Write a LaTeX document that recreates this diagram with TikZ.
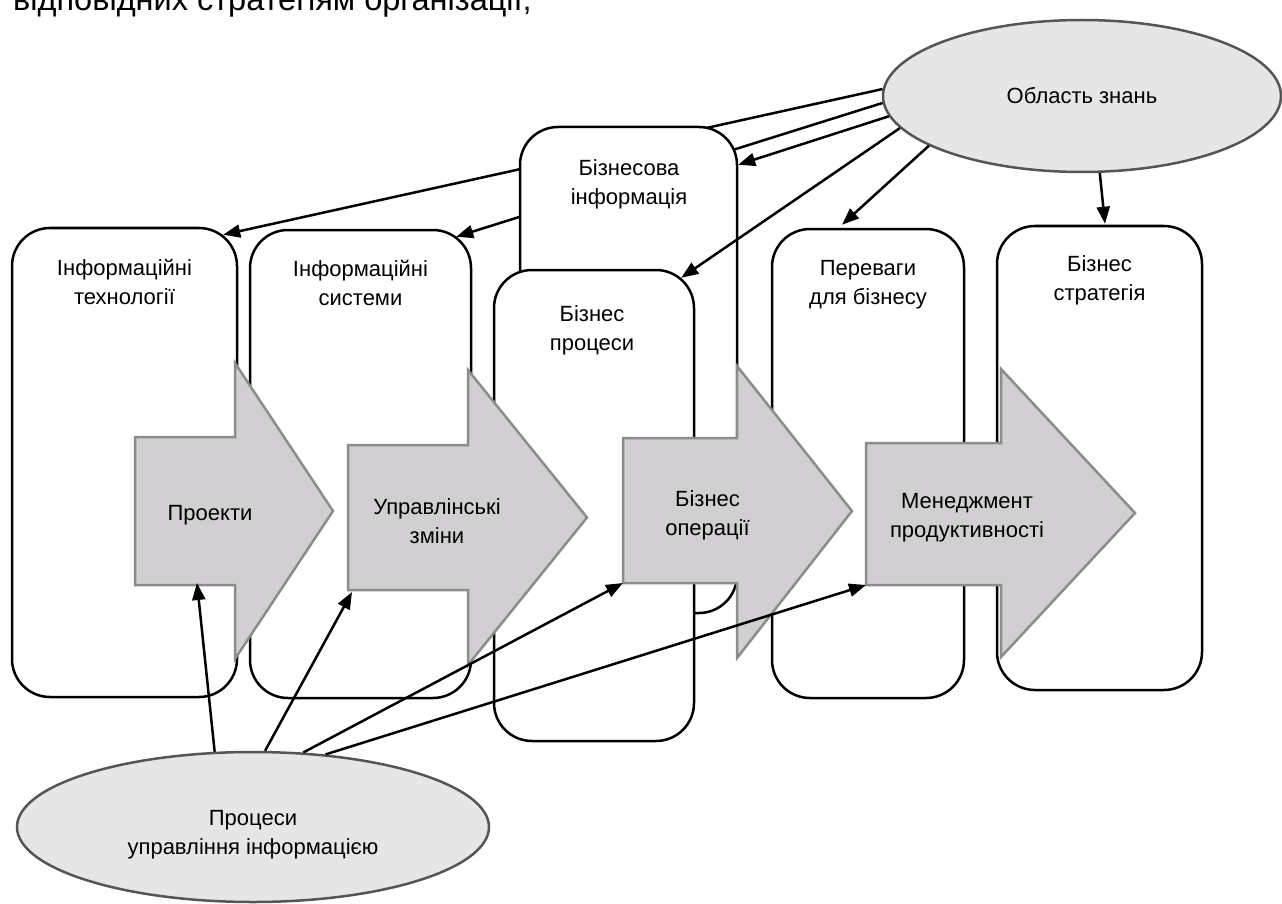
\documentclass[tikz,border=0pt]{standalone}
\usepackage{fontspec}
\setmainfont{Liberation Sans}
\usetikzlibrary{shapes.geometric,arrows.meta,calc}
\definecolor{ellfill}{HTML}{E6E6E6}
\definecolor{elldraw}{HTML}{555555}
\definecolor{blkfill}{HTML}{D1CFD1}
\definecolor{blkdraw}{HTML}{8C8C8C}
\begin{document}
\begin{tikzpicture}[x=1pt,y=-1pt,
  box/.style={draw=black, line width=2.5pt, rounded corners=38pt, fill=white, inner sep=0pt},
  oval/.style={ellipse, draw=elldraw, fill=ellfill, line width=2.5pt, inner sep=0pt},
  blk/.style={draw=blkdraw, fill=blkfill, line width=2.5pt, line join=miter},
  lbl/.style={font=\fontsize{22}{29}\selectfont, align=center, inner sep=0pt, anchor=north},
  conn/.style={line width=2.5pt, draw=black},
  arr/.style={conn, -{Triangle[length=17pt,width=13pt]}},
]
\useasboundingbox (0,0) rectangle (1282,904);

\node[anchor=base west, inner sep=0pt, font=\fontsize{32.5}{38}\selectfont] (top) at (13,11) {відповідних стратегіям організації;};

% ellipses
\node[oval, minimum width=398pt, minimum height=152pt, font=\fontsize{22}{29}\selectfont] (oz) at (1082,96) {Область знань};
\node[oval, minimum width=472pt, minimum height=150pt] (pm) at (253,827) {};
\node[lbl] (pmt) at (253,804.7) {\strut Процеси\\управління інформацією};

% left boxes
\node[box, minimum width=225pt, minimum height=469pt] (it) at (124.5,462.5) {};
\node[lbl] (itt) at (124.5,254.7) {\strut Інформаційні\\технології};
\node[box, minimum width=221pt, minimum height=468pt] (is) at (360.5,464) {};
\node[lbl] (ist) at (360.5,255.7) {\strut Інформаційні\\системи};

% connectors passing behind "Бізнесова інформація"
\draw[arr] (oz.178) -- ($(it.north east)+(-15,8)$);
\draw[arr] (oz.182) -- ($(is.north east)+(-16,8)$);

% other boxes
\node[box, minimum width=217pt, minimum height=486pt] (bi) at (628.5,370) {};
\node[lbl] (bit) at (629,154.7) {\strut Бізнесова\\інформація};
\node[box, minimum width=200pt, minimum height=471pt] (bp) at (594,505.5) {};
\node[lbl] (bpt) at (592,300.7) {\strut Бізнес\\процеси};
\node[box, minimum width=192pt, minimum height=469pt] (pb) at (868,463.5) {};
\node[lbl] (pbt) at (868,254.7) {\strut Переваги\\для бізнесу};
\node[box, minimum width=205pt, minimum height=464pt] (bs) at (1099.5,458) {};
\node[lbl] (bst) at (1099.5,250.7) {\strut Бізнес\\стратегія};

% block arrows
\draw[blk] (135,437) -- (235,437) -- (235,363) -- (333,511) -- (235,659) -- (235,585) -- (135,585) -- cycle;
\coordinate (a1bl) at (135,585);
\node[lbl] (a1t) at (210,499.7) {\strut Проекти};

\draw[blk] (348,445) -- (468,445) -- (468,370) -- (587,517.5) -- (468,665) -- (468,590) -- (348,590) -- cycle;
\coordinate (a2bl) at (348,590);
\node[lbl] (a2t) at (437,493.7) {\strut Управлінські\\зміни};

\draw[blk] (623,438) -- (737,438) -- (737,366) -- (852,511) -- (737,658) -- (737,583) -- (623,583) -- cycle;
\coordinate (a3bl) at (623,583);
\node[lbl] (a3t) at (707.5,485.7) {\strut Бізнес\\операції};

\draw[blk] (866,443) -- (1001,443) -- (1001,369) -- (1135,513) -- (1001,657) -- (1001,585) -- (866,585) -- cycle;
\coordinate (a4bl) at (866,585);
\node[lbl] (a4t) at (967,487.7) {\strut Менеджмент\\продуктивності};

% connectors on top
\draw[arr] (oz.186) -- ($(bi.north east)+(0,39)$);
\draw[arr] (oz.190) -- ($(bp.north east)+(-14,9)$);
\draw[arr] (oz.198) -- ($(pb.north)+(-26,-3)$);
\draw[arr] (oz.283) -- ($(bs.north)+(5.5,-1)$);

\draw[arr] (pm.117) -- ($(a1bl)+(62,-2)$);
\draw[arr] (pm.81) -- ($(a2bl)+(4,2)$);
\draw[arr] (pm.56) -- (a3bl);
\draw[arr] (pm.45) -- (a4bl);
\end{tikzpicture}
\end{document}
